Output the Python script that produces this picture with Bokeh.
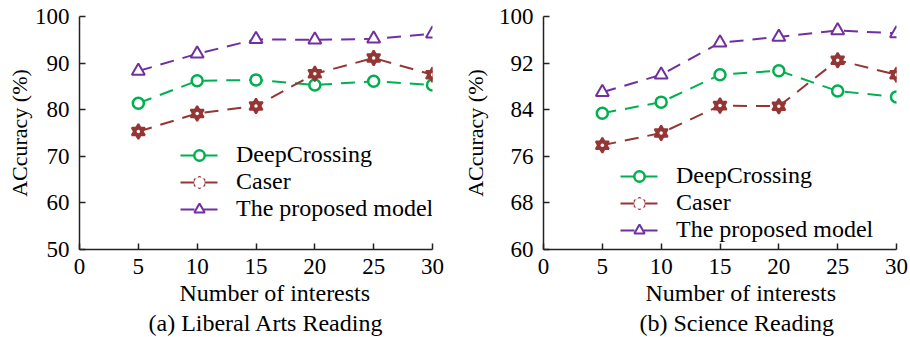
from bokeh.plotting import figure
from bokeh.layouts import row
from bokeh.models import Legend, LegendItem, Title, FixedTicker, Range1d
from bokeh.embed import file_html
from bokeh.resources import INLINE

# ---------------- data ----------------
x_interests = [5, 10, 15, 20, 25, 30]
x_ticks = [0, 5, 10, 15, 20, 25, 30]

a_deepcrossing = [81.4, 86.2, 86.4, 85.3, 86.1, 85.3]
a_caser = [75.3, 79.2, 80.8, 87.7, 91.1, 87.5]
a_proposed = [88.3, 92.0, 95.1, 95.0, 95.2, 96.3]
a_yticks = [50, 60, 70, 80, 90, 100]

b_deepcrossing = [83.4, 85.3, 90.0, 90.7, 87.2, 86.2]
b_caser = [77.9, 80.0, 84.7, 84.6, 92.5, 90.0]
b_proposed = [87.0, 90.0, 95.5, 96.5, 97.6, 97.1]
b_yticks = [60, 68, 76, 84, 92, 100]

series_names = ["DeepCrossing", "Caser", "The proposed model"]
xlabel = "Number of interests"
ylabel = "ACcuracy (%)"
captions = ["(a) Liberal Arts Reading", "(b) Science Reading"]

GREEN = "#00b050"
BROWN = "#943634"
PURPLE = "#7030a0"
FONT = "'Liberation Serif'"
DASH = "14 9"


def make_panel(dc, cs, pr, yticks, caption, width, bl, br, ylab_standoff,
               leg_loc, xl_off, cap_off):
    p = figure(width=width, height=337, output_backend="svg", toolbar_location=None,
               x_range=Range1d(0, 30), y_range=Range1d(yticks[0], yticks[-1]),
               min_border_left=bl, min_border_right=br, min_border_top=16,
               min_border_bottom=86)
    p.outline_line_color = None
    p.grid.visible = False
    p.background_fill_color = "white"
    p.border_fill_color = "white"

    for ax in (p.xaxis[0], p.yaxis[0]):
        ax.axis_line_color = "#222222"
        ax.axis_line_width = 1.5
        ax.major_tick_line_color = "#222222"
        ax.major_tick_line_width = 1.5
        ax.major_tick_in = 6
        ax.major_tick_out = 0
        ax.minor_tick_line_color = None
        ax.major_label_text_font = FONT
        ax.major_label_text_font_size = "23px"
        ax.major_label_text_color = "black"
    p.xaxis.ticker = FixedTicker(ticks=x_ticks)
    p.yaxis.ticker = FixedTicker(ticks=yticks)
    p.xaxis.major_label_standoff = 9
    p.yaxis.major_label_standoff = 10
    p.yaxis.axis_label = ylabel
    p.yaxis.axis_label_text_font = FONT
    p.yaxis.axis_label_text_font_size = "22px"
    p.yaxis.axis_label_text_font_style = "normal"
    p.yaxis.axis_label_text_color = "black"
    p.yaxis.axis_label_standoff = ylab_standoff

    # DeepCrossing
    l1 = p.line(x_interests, dc, line_color=GREEN, line_width=2, line_dash=DASH)
    m1 = p.scatter(x_interests, dc, marker="circle", size=11, line_color=GREEN,
                   line_width=2.5, fill_color="white")
    # Caser (six-pointed star)
    l2 = p.line(x_interests, cs, line_color=BROWN, line_width=2, line_dash=DASH)
    m2a = p.scatter(x_interests, cs, marker="triangle", size=13, line_color=BROWN,
                    line_width=2, fill_color=BROWN)
    m2b = p.scatter(x_interests, cs, marker="inverted_triangle", size=13, line_color=BROWN,
                    line_width=2, fill_color=BROWN)
    m2c = p.scatter(x_interests, cs, marker="circle", size=3.5, line_color=None,
                    fill_color="white")
    # Proposed
    l3 = p.line(x_interests, pr, line_color=PURPLE, line_width=2, line_dash=DASH)
    m3 = p.scatter(x_interests, pr, marker="triangle", size=13, line_color=PURPLE,
                   line_width=2, fill_color="white")

    legend = Legend(items=[
        LegendItem(label=series_names[0], renderers=[l1, m1]),
        LegendItem(label=series_names[1], renderers=[l2, m2a, m2b, m2c]),
        LegendItem(label=series_names[2], renderers=[l3, m3]),
    ], location=leg_loc)
    legend.label_text_font = FONT
    legend.label_text_font_size = "24px"
    legend.label_text_color = "black"
    legend.glyph_width = 38
    legend.glyph_height = 26
    legend.label_height = 20
    legend.label_standoff = 18
    legend.spacing = 0
    legend.padding = 0
    legend.margin = 0
    legend.border_line_color = None
    legend.background_fill_alpha = 0
    p.add_layout(legend, "center")

    p.add_layout(Title(text=xlabel, align="left", offset=xl_off, text_font=FONT,
                       text_font_size="24px", text_font_style="normal",
                       text_color="black", standoff=2), "below")
    p.add_layout(Title(text=caption, align="left", offset=cap_off, text_font=FONT,
                       text_font_size="24px", text_font_style="normal",
                       text_color="black", standoff=3), "below")
    return p


pa = make_panel(a_deepcrossing, a_caser, a_proposed, a_yticks, captions[0],
                width=455, bl=79, br=23, ylab_standoff=0, leg_loc=(101, 27),
                xl_off=100, cap_off=69)
pb = make_panel(b_deepcrossing, b_caser, b_proposed, b_yticks, captions[1],
                width=455, bl=88, br=14, ylab_standoff=8, leg_loc=(77, 6),
                xl_off=102, cap_off=96)

layout = row(pa, pb, spacing=0)
open("out.html", "w").write(file_html(layout, INLINE))
